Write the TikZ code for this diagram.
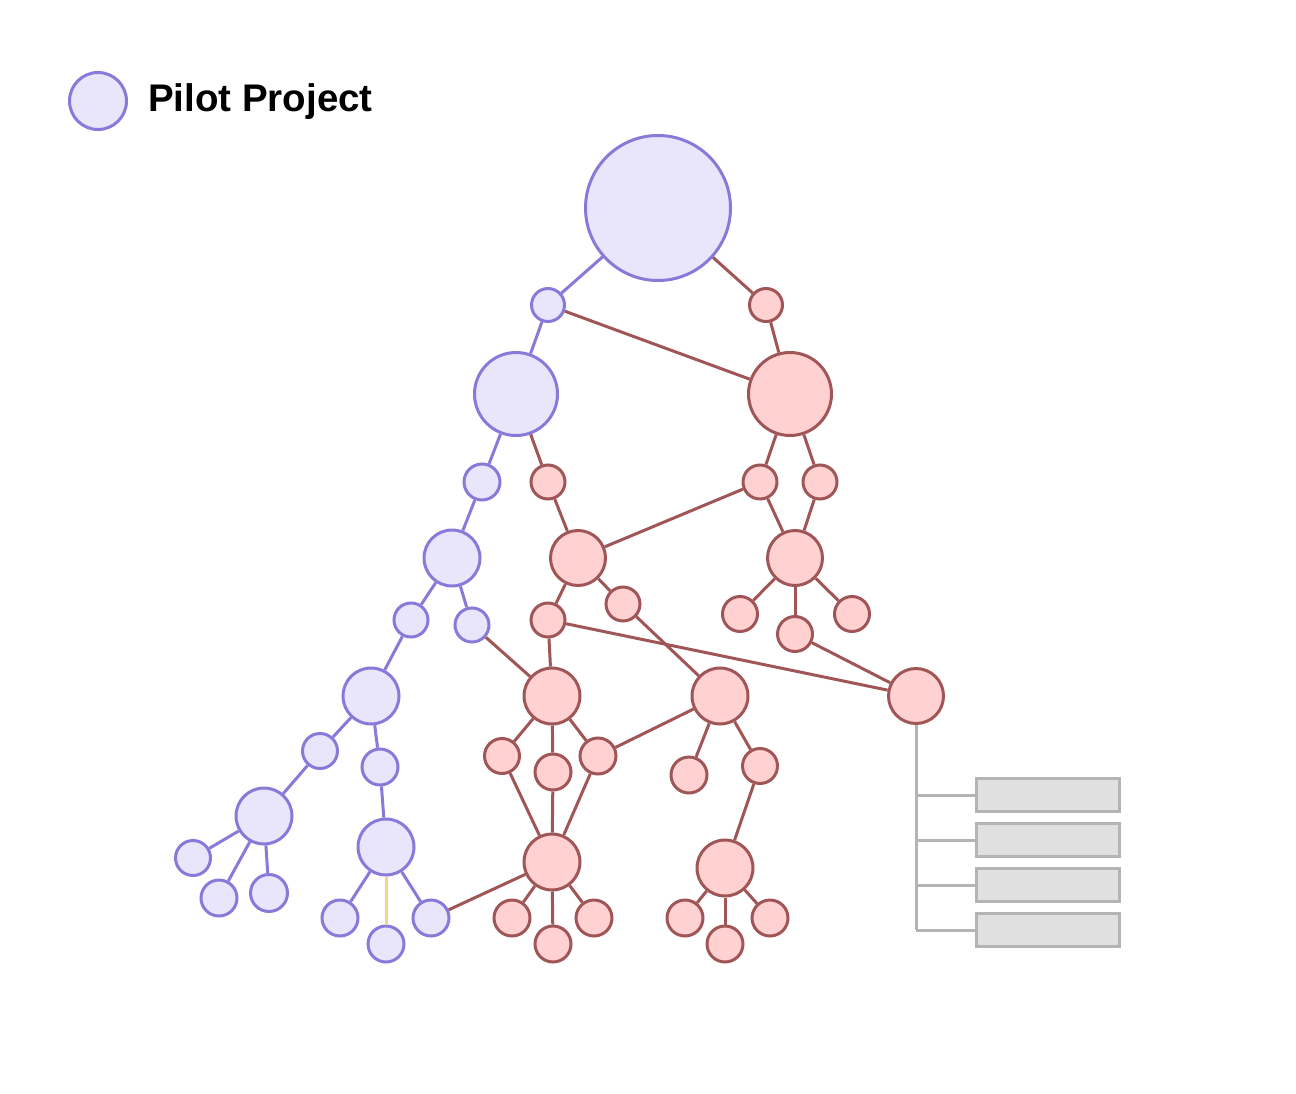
\documentclass[tikz,border=0pt]{standalone}
\usepackage{fontspec}
\setmainfont{Liberation Sans}
\usetikzlibrary{positioning}

\definecolor{pfill}{RGB}{233,229,251}
\definecolor{pline}{RGB}{137,122,218}
\definecolor{rfill}{RGB}{255,209,209}
\definecolor{rline}{RGB}{160,86,86}
\definecolor{gfill}{RGB}{224,224,224}
\definecolor{gline}{RGB}{180,180,180}
\definecolor{yline}{RGB}{250,212,128}

\begin{document}
\begin{tikzpicture}[x=1pt,y=-1pt,
	pnode/.style={circle, draw=pline, fill=pfill, line width=3pt, inner sep=0pt, minimum size=#1},
	rnode/.style={circle, draw=rline, fill=rfill, line width=3pt, inner sep=0pt, minimum size=#1},
	gbox/.style={rectangle, draw=gline, fill=gfill, line width=3pt, inner sep=0pt, minimum width=143pt, minimum height=33pt},
	pedge/.style={draw=pline, line width=3pt},
	redge/.style={draw=rline, line width=3pt},
	gedge/.style={draw=gline, line width=3pt},
	yedge/.style={draw=yline, line width=3pt}]
		\useasboundingbox (0,0) rectangle (1296,1094);

		% legend
		\node[pnode=57pt] (key) at (98,101) {};
		\node[anchor=west, inner sep=0pt] (keytext) at (148,102) {\fontsize{38.5}{40}\selectfont\bfseries Pilot Project};

		% top
		\node[pnode=145pt] (root) at (658,208) {};
		\node[pnode=33pt] (p1) at (548,305) {};
		\node[rnode=33pt] (r1) at (766,305) {};
		\node[pnode=83pt] (P2) at (516,394) {};
		\node[rnode=83pt] (R2) at (790,394) {};
		\node[pnode=36pt] (p3) at (482,482) {};
		\node[rnode=34pt] (r3a) at (548,482) {};
		\node[rnode=34pt] (r3b) at (760,482) {};
		\node[rnode=34pt] (r3c) at (820,482) {};
		\node[pnode=56pt] (P4) at (452,558) {};
		\node[rnode=55pt] (R4a) at (578,558) {};
		\node[rnode=55pt] (R4b) at (795,558) {};

		% middle
		\node[pnode=34pt] (p5a) at (411,620) {};
		\node[pnode=34pt] (p5b) at (472,625) {};
		\node[rnode=34pt] (r5a) at (548,620) {};
		\node[rnode=34pt] (r5b) at (623,604) {};
		\node[rnode=35pt] (r5c) at (740,614) {};
		\node[rnode=35pt] (r5d) at (795,634) {};
		\node[rnode=35pt] (r5e) at (852,614) {};
		\node[pnode=56pt] (P6) at (371,696) {};
		\node[rnode=56pt] (R6a) at (552,696) {};
		\node[rnode=56pt] (R6b) at (720,696) {};
		\node[rnode=55pt] (R6c) at (916,696) {};
		\node[pnode=35pt] (p7a) at (320,751) {};
		\node[pnode=36pt] (p7b) at (380,767) {};
		\node[rnode=35pt] (r7a) at (502,756) {};
		\node[rnode=36pt] (r7b) at (553,772) {};
		\node[rnode=36pt] (r7c) at (598,756) {};
		\node[rnode=36pt] (r7d) at (689,775) {};
		\node[rnode=35pt] (r7e) at (760,766) {};

		% bottom
		\node[pnode=56pt] (P8a) at (264,816) {};
		\node[pnode=56pt] (P8b) at (386,847) {};
		\node[rnode=56pt] (R8a) at (552,862) {};
		\node[rnode=56pt] (R8b) at (725,868) {};
		\node[pnode=35pt] (pa1) at (193,858) {};
		\node[pnode=36pt] (pa2) at (219,898) {};
		\node[pnode=37pt] (pa3) at (269,893) {};
		\node[pnode=36pt] (pb1) at (340,918) {};
		\node[pnode=36pt] (pb2) at (386,944) {};
		\node[pnode=36pt] (pb3) at (431,918) {};
		\node[rnode=36pt] (ra1) at (512,918) {};
		\node[rnode=36pt] (ra2) at (553,944) {};
		\node[rnode=36pt] (ra3) at (594,918) {};
		\node[rnode=36pt] (rb1) at (685,918) {};
		\node[rnode=36pt] (rb2) at (725,944) {};
		\node[rnode=36pt] (rb3) at (770,918) {};

		% boxes
		\node[gbox] (box1) at (1048,795) {};
		\node[gbox] (box2) at (1048,840) {};
		\node[gbox] (box3) at (1048,885) {};
		\node[gbox] (box4) at (1048,930) {};
		\coordinate (b1) at (916,795);
		\coordinate (b2) at (916,840);
		\coordinate (b3) at (916,885);
		\coordinate (b4) at (916,930);

		% purple links
		\draw[pedge] (root) -- (p1);
		\draw[pedge] (p1) -- (P2);
		\draw[pedge] (P2) -- (p3);
		\draw[pedge] (p3) -- (P4);
		\draw[pedge] (P4) -- (p5a);
		\draw[pedge] (P4) -- (p5b);
		\draw[pedge] (p5a) -- (P6);
		\draw[pedge] (P6) -- (p7a);
		\draw[pedge] (P6) -- (p7b);
		\draw[pedge] (p7a) -- (P8a);
		\draw[pedge] (p7b) -- (P8b);
		\draw[pedge] (P8a) -- (pa1);
		\draw[pedge] (P8a) -- (pa2);
		\draw[pedge] (P8a) -- (pa3);
		\draw[pedge] (P8b) -- (pb1);
		\draw[yedge] (P8b) -- (pb2);
		\draw[pedge] (P8b) -- (pb3);

		% red links
		\draw[redge] (root) -- (r1);
		\draw[redge] (p1) -- (R2);
		\draw[redge] (r1) -- (R2);
		\draw[redge] (P2) -- (r3a);
		\draw[redge] (R2) -- (r3b);
		\draw[redge] (R2) -- (r3c);
		\draw[redge] (r3a) -- (R4a);
		\draw[redge] (r3b) -- (R4a);
		\draw[redge] (r3b) -- (R4b);
		\draw[redge] (r3c) -- (R4b);
		\draw[redge] (R4a) -- (r5a);
		\draw[redge] (R4a) -- (r5b);
		\draw[redge] (R4b) -- (r5c);
		\draw[redge] (R4b) -- (r5d);
		\draw[redge] (R4b) -- (r5e);
		\draw[redge] (p5b) -- (R6a);
		\draw[redge] (r5a) -- (R6a);
		\draw[redge] (r5a) -- (R6c);
		\draw[redge] (r5b) -- (R6b);
		\draw[redge] (r5d) -- (R6c);
		\draw[redge] (R6a) -- (r7a);
		\draw[redge] (R6a) -- (r7b);
		\draw[redge] (R6a) -- (r7c);
		\draw[redge] (r7c) -- (R6b);
		\draw[redge] (R6b) -- (r7d);
		\draw[redge] (R6b) -- (r7e);
		\draw[redge] (r7a) -- (R8a);
		\draw[redge] (r7b) -- (R8a);
		\draw[redge] (r7c) -- (R8a);
		\draw[redge] (r7e) -- (R8b);
		\draw[redge] (pb3) -- (R8a);
		\draw[redge] (R8a) -- (ra1);
		\draw[redge] (R8a) -- (ra2);
		\draw[redge] (R8a) -- (ra3);
		\draw[redge] (R8b) -- (rb1);
		\draw[redge] (R8b) -- (rb2);
		\draw[redge] (R8b) -- (rb3);

		% grey links
		\draw[gedge] (R6c) -- (b4);
		\draw[gedge] (b1) -- (box1);
		\draw[gedge] (b2) -- (box2);
		\draw[gedge] (b3) -- (box3);
		\draw[gedge] (b4) -- (box4);
	\end{tikzpicture}
\end{document}
